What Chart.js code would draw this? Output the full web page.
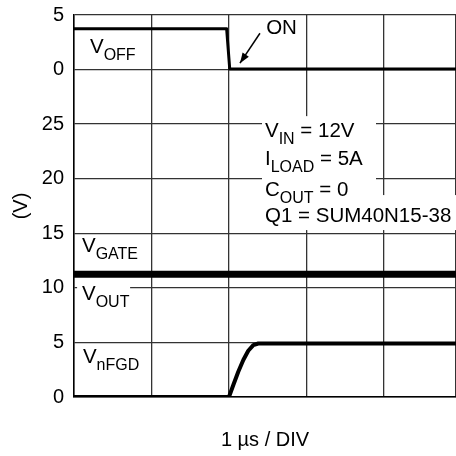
<!DOCTYPE html>
<html>
<head>
<meta charset="utf-8">
<script src="https://cdn.jsdelivr.net/npm/chart.js@4/dist/chart.umd.min.js"></script>
<style>
  html, body { margin: 0; padding: 0; background: #fff; }
  #wrap { width: 456px; height: 456px; }
</style>
</head>
<body>
<div id="wrap"><canvas id="scopeChart" width="456" height="456"></canvas></div>
<script>
// time axis in us, 1 us per division
var timeOff = [0, 1.97, 2.01, 4.93];
var vOff = [3.73, 3.73, 0.05, 0.05];          // top panel, 0..5 V
var timeGate = [0, 4.93];
var vGate = [11.25, 11.25];                    // lower panel, 0..25 V
var timeFgd = [0, 2.0, 2.056, 2.12, 2.185, 2.249, 2.314, 2.378, 4.93];
var vFgd = [0, 0, 1.1, 2.32, 3.39, 4.24, 4.76, 4.9, 4.9];

var topPanelOffset = 30;  // top 0..5 V panel sits above the 0..25 V panel
var yTickLabels = ['0', '5', '10', '15', '20', '25', '0', '5'];

var FONT = '"Liberation Sans", Arial, Helvetica, sans-serif';

function pts(xs, ys, off) {
    return xs.map(function (x, i) { return { x: x, y: ys[i] + (off || 0) }; });
}

// text with subscripts: parts = [[text, isSub], ...]
function richText(ctx, parts, x, y) {
    var cx = x;
    parts.forEach(function (p) {
        ctx.font = (p[1] ? '16px ' : '20.5px ') + FONT;
        ctx.fillText(p[0], cx, p[1] ? y + 6.5 : y);
        cx += ctx.measureText(p[0]).width;
    });
    return cx - x;
}

var notes = {
    id: 'notes',
    beforeDatasetsDraw: function (chart) {
        var ctx = chart.ctx, xs = chart.scales.x, ys = chart.scales.y;
        ctx.save();
        ctx.fillStyle = '#fff';
        var left = xs.getPixelForValue(2.465) - 3;
        // box behind conditions block
        ctx.fillRect(left, ys.getPixelForValue(23.81) - 21, 376 - left, 80);
        ctx.fillRect(left, ys.getPixelForValue(18.41) - 1, chart.chartArea.right - left, 35);
        // box behind V_OUT label
        ctx.fillRect(xs.getPixelForValue(0.04), ys.getPixelForValue(8.88) - 20, 53, 30);
        ctx.restore();
    },
    afterDraw: function (chart) {
        var ctx = chart.ctx, xs = chart.scales.x, ys = chart.scales.y;
        function px(v) { return xs.getPixelForValue(v); }
        function py(v) { return ys.getPixelForValue(v); }
        ctx.save();
        ctx.fillStyle = '#000';
        ctx.textBaseline = 'alphabetic';
        ctx.textAlign = 'left';
        richText(ctx, [['V', 0], ['OFF', 1]], px(0.206), py(31.5));
        richText(ctx, [['ON', 0]], px(2.48), py(33.24));
        richText(ctx, [['V', 0], ['GATE', 1]], px(0.103), py(13.28));
        richText(ctx, [['V', 0], ['OUT', 1]], px(0.103), py(8.88));
        richText(ctx, [['V', 0], ['nFGD', 1]], px(0.115), py(3.11));
        var cl = px(2.465);
        richText(ctx, [['V', 0], ['IN', 1], [' = 12V', 0]], cl, py(23.81));
        richText(ctx, [['I', 0], ['LOAD', 1], [' = 5A', 0]], cl, py(21.25));
        richText(ctx, [['C', 0], ['OUT', 1], [' = 0', 0]], cl, py(18.41));
        richText(ctx, [['Q1 = SUM40N15-38', 0]], cl, py(16.03));

        // arrow pointing at the V_OFF turn-off edge
        var x1 = px(2.40), y1 = py(33.33), x2 = px(2.142), y2 = py(30.59);
        ctx.strokeStyle = '#000';
        ctx.lineWidth = 1.5;
        ctx.beginPath();
        ctx.moveTo(x1, y1);
        ctx.lineTo(x2, y2);
        ctx.stroke();
        var a = Math.atan2(y2 - y1, x2 - x1);
        ctx.beginPath();
        ctx.moveTo(x2, y2);
        ctx.lineTo(x2 - 11 * Math.cos(a - 0.35), y2 - 11 * Math.sin(a - 0.35));
        ctx.lineTo(x2 - 11 * Math.cos(a + 0.35), y2 - 11 * Math.sin(a + 0.35));
        ctx.closePath();
        ctx.fill();
        ctx.restore();
    }
};

var ctx = document.getElementById('scopeChart').getContext('2d');
var myChart = new Chart(ctx, {
    type: 'line',
    data: {
        datasets: [{
            label: 'VOFF',
            data: pts(timeOff, vOff, topPanelOffset),
            borderColor: '#000',
            borderWidth: 3
        }, {
            label: 'VGATE',
            data: pts(timeGate, vGate),
            borderColor: '#000',
            borderWidth: 7
        }, {
            label: 'VnFGD',
            data: pts(timeFgd, vFgd),
            borderColor: '#000',
            borderWidth: 4
        }]
    },
    plugins: [notes],
    options: {
        responsive: false,
        animation: false,
        layout: { padding: { top: 15, right: 0, bottom: 0, left: 0 } },
        elements: { point: { radius: 0 }, line: { tension: 0, borderJoinStyle: 'round' } },
        plugins: { legend: { display: false }, tooltip: { enabled: false } },
        scales: {
            x: {
                type: 'linear',
                min: 0,
                max: 4.93,
                ticks: { display: false, stepSize: 1 },
                grid: { color: '#333', lineWidth: 1.3, drawTicks: false },
                border: { color: '#000', width: 1.5 },
                title: {
                    display: true,
                    text: '1 \u00b5s / DIV',
                    color: '#000',
                    font: { family: FONT, size: 20 },
                    padding: { top: 0, bottom: 4 }
                },
                afterFit: function (s) { s.height = 59; s.paddingLeft = 0; s.paddingRight = 0; }
            },
            y: {
                type: 'linear',
                min: 0,
                max: 35,
                ticks: {
                    stepSize: 5,
                    color: '#000',
                    padding: 10,
                    font: { family: FONT, size: 20 },
                    callback: function (v) { return yTickLabels[Math.round(v / 5)]; }
                },
                grid: { color: '#333', lineWidth: 1.3, drawTicks: false },
                border: { color: '#000', width: 1.5 },
                title: {
                    display: true,
                    text: '(V)',
                    color: '#000',
                    font: { family: FONT, size: 20 },
                    padding: { top: 9, bottom: 0 }
                },
                afterFit: function (s) { s.width = 74; s.paddingTop = 0; s.paddingBottom = 0; }
            }
        }
    }
});
</script>
</body>
</html>
